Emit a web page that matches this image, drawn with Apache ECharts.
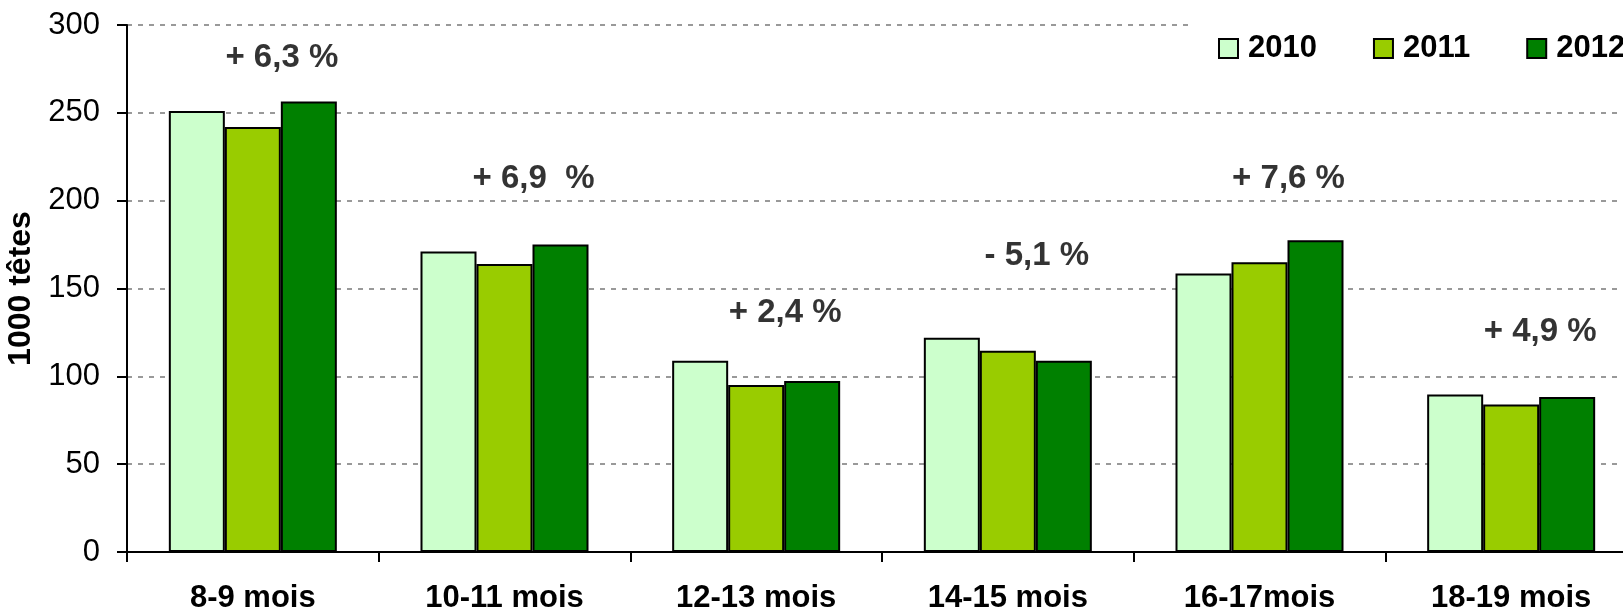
<!DOCTYPE html>
<html>
<head>
<meta charset="utf-8">
<title>1000 têtes par classe d'âge</title>
<script src="https://cdn.jsdelivr.net/npm/echarts@6/dist/echarts.min.js"></script>
<style>
  html, body { margin: 0; padding: 0; background: #fff; }
  #chart { width: 1623px; height: 614px; }
</style>
</head>
<body>
<div id="chart"></div>
<script>
// data
var categories = ["8-9 mois", "10-11 mois", "12-13 mois", "14-15 mois", "16-17mois", "18-19 mois"];
var years = ["2010", "2011", "2012"];
var values2010 = [251, 171, 108.8, 122, 158.6, 89.6];
var values2011 = [242, 164, 95.1, 114.5, 165, 84];
var values2012 = [256.5, 175, 97.4, 108.8, 177.5, 88.3];
// change labels and the level (in 1000 têtes) they sit at
var changeLabels = ["+ 6,3 %", "+ 6,9  %", "+ 2,4 %", "- 5,1 %", "+ 7,6 %", "+ 4,9 %"];
var changeLevels = [283, 214, 137.6, 170.4, 214, 126.8];
var yTicks = [0, 50, 100, 150, 200, 250, 300];

var colors = ["#CCFFCC", "#99CC00", "#008000"];
var font = "Liberation Sans, Arial, sans-serif";

var chart = echarts.init(document.getElementById("chart"));

var series = [];
var allValues = [values2010, values2011, values2012];
for (var i = 0; i < years.length; i++) {
  series.push({
    name: years[i],
    type: "bar",
    data: allValues[i],
    barWidth: 56,
    barGap: "0%",
    itemStyle: {
      color: colors[i],
      borderColor: "#000",
      borderWidth: 2
    }
  });
}

// percent change labels over each group
series.push({
  name: "variation",
  type: "scatter",
  symbolSize: 0,
  silent: true,
  z: 10,
  data: changeLevels.map(function (v, i) { return [categories[i], v]; }),
  label: {
    show: true,
    position: "inside",
    offset: [29, 3],
    formatter: function (p) { return changeLabels[p.dataIndex]; },
    color: "#000",
    fontFamily: font,
    fontWeight: "bold",
    fontSize: 33
  }
});

chart.setOption({
  animation: false,
  backgroundColor: "#fff",
  grid: {
    left: 127,
    top: 25,
    bottom: 62,
    right: -14,
    containLabel: false,
    outerBoundsMode: "none"
  },
  legend: {
    data: years,
    orient: "horizontal",
    left: 1188,
    top: 0,
    width: 600,
    padding: [33, 0, 22, 30],
    backgroundColor: "#fff",
    itemWidth: 19,
    itemHeight: 19,
    itemGap: 56,
    icon: "rect",
    itemStyle: { borderColor: "#000", borderWidth: 2 },
    textStyle: {
      color: "#000",
      fontFamily: font,
      fontWeight: "bold",
      fontSize: 31,
      padding: [0, 0, 0, 5]
    },
    z: 20
  },
  xAxis: {
    type: "category",
    data: categories,
    axisLine: { lineStyle: { color: "#000", width: 2 } },
    axisTick: { show: true, length: 10, lineStyle: { color: "#000", width: 2 } },
    axisLabel: {
      color: "#000",
      fontFamily: font,
      fontWeight: "bold",
      fontSize: 31,
      lineHeight: 31,
      margin: 31
    }
  },
  yAxis: {
    type: "value",
    min: yTicks[0],
    max: yTicks[yTicks.length - 1],
    interval: 50,
    name: "1000 têtes",
    nameLocation: "middle",
    nameRotate: 90,
    nameGap: 73,
    nameTextStyle: {
      color: "#000",
      fontFamily: font,
      fontWeight: "bold",
      fontSize: 32
    },
    axisLine: { show: true, lineStyle: { color: "#000", width: 2 } },
    axisTick: { show: true, length: 10, lineStyle: { color: "#000", width: 2 } },
    axisLabel: {
      color: "#000",
      fontFamily: font,
      fontSize: 31,
      margin: 27
    },
    splitLine: {
      show: true,
      lineStyle: { color: "#999", width: 2, type: [5, 6] }
    }
  },
  series: series
});
</script>
</body>
</html>
